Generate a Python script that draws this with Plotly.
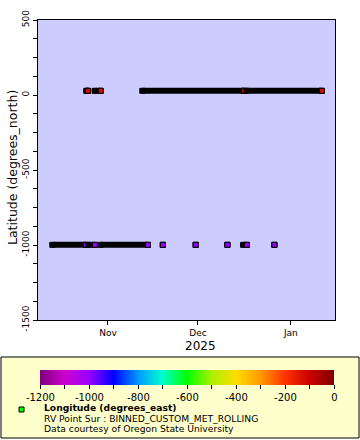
import plotly.graph_objects as go

# ---------------- data ----------------
# Runs of valid positions (latitude ~ 28 N, longitude ~ -122 E)
valid_run_start = ["2025-10-24 18:00", "2025-10-27 12:30", "2025-11-12 10:30", "2025-12-17 01:30"]
valid_run_end = ["2025-10-25 07:30", "2025-10-29 14:00", "2025-12-16 09:30", "2026-01-11 08:00"]
valid_lat = 28.0
valid_lon = -122.0

# Runs / single records carrying the fill value (-999)
fill_run_start = ["2025-10-13 10:30", "2025-10-25 07:30", "2025-10-29 14:00", "2025-11-19 07:00",
                  "2025-11-30 06:00", "2025-12-10 20:00", "2025-12-16 01:30", "2025-12-26 12:00"]
fill_run_end = ["2025-10-24 15:30", "2025-10-27 15:00", "2025-11-14 07:30", "2025-11-19 07:00",
                "2025-11-30 06:00", "2025-12-10 20:00", "2025-12-17 07:30", "2025-12-26 12:00"]
fill_lat = -999.0
fill_lon = -999.0

x_range = ["2025-10-08 16:00", "2026-01-15 17:00"]
x_tick_dates = ["2025-11-01", "2025-12-01", "2026-01-01"]
x_tick_labels = ["Nov", "Dec", "Jan"]
y_range = [-1500, 500]
y_tick_values = [500, 0, -500, -1000, -1500]
y_tick_labels = ["500", "0", "-500", "-1000", "-1500"]
cbar_tick_values = list(range(-1200, 1, 100))
cbar_tick_labels = [str(v) if v % 200 == 0 else "" for v in cbar_tick_values]

colorscale = [
    [0 / 12, "#800080"], [1 / 12, "#CC00CC"], [2 / 12, "#9900FF"], [3 / 12, "#0000FF"],
    [4 / 12, "#0099FF"], [5 / 12, "#00FFCC"], [6 / 12, "#00FF00"], [7 / 12, "#AAF000"],
    [8 / 12, "#FFDD00"], [9 / 12, "#FF9900"], [10 / 12, "#FF3300"], [11 / 12, "#CC0000"],
    [12 / 12, "#800000"],
]

FONT = "DejaVu Sans"
W, H = 360, 440
L, R, T, B = 38, 25, 20, 120
PW, PH = W - L - R, H - T - B


def px(x):
    return (x - L) / PW


def py(y):
    return (H - B - y) / PH


runs = [(s, e, valid_lat, valid_lon) for s, e in zip(valid_run_start, valid_run_end)]
runs += [(s, e, fill_lat, fill_lon) for s, e in zip(fill_run_start, fill_run_end)]
runs.sort(key=lambda r: r[0])

fig = go.Figure()
for s, e, lat, lon in runs:
    fig.add_trace(go.Scatter(
        x=[s, e], y=[lat, lat], mode="lines+markers",
        line=dict(color="black", width=6),
        marker=dict(symbol="square", size=5, color="black", line=dict(color="black", width=1)),
        showlegend=False, hoverinfo="skip"))
    fig.add_trace(go.Scatter(
        x=[e], y=[lat], mode="markers",
        marker=dict(symbol="square", size=5, color=[lon], coloraxis="coloraxis",
                    line=dict(color="black", width=1)),
        showlegend=False))

fig.update_layout(
    width=W, height=H,
    margin=dict(l=L, r=R, t=T, b=B, pad=0, autoexpand=False),
    paper_bgcolor="white", plot_bgcolor="#CCCCFF",
    font=dict(family=FONT, color="black"),
    showlegend=False,
    coloraxis=dict(
        cmin=-1200.01, cmax=0.01, colorscale=colorscale,
        colorbar=dict(
            orientation="h", xref="container", yref="container",
            x=49 / W, xanchor="left", y=(H - 370) / H, yanchor="top",
            len=294, lenmode="pixels", thickness=15, thicknessmode="pixels",
            xpad=0, ypad=0, outlinewidth=0, ticklabeloverflow="allow",
            tickmode="array", tickvals=cbar_tick_values, ticktext=cbar_tick_labels,
            ticks="outside", ticklen=4, tickcolor="black", tickwidth=1,
            tickfont=dict(size=10, family=FONT, color="black"),
        ),
    ),
    xaxis=dict(
        type="date", range=x_range, tickmode="array", tickvals=x_tick_dates, ticktext=x_tick_labels,
        ticks="outside", ticklen=4, tickcolor="black", showline=True, linecolor="black", linewidth=1,
        mirror=True, showgrid=False, zeroline=False, tickfont=dict(size=9, family=FONT),
    ),
    yaxis=dict(
        range=y_range, tickmode="array", tickvals=y_tick_values, ticktext=y_tick_labels,
        tickangle=-90, ticks="outside", ticklen=4, tickcolor="black", showline=True,
        linecolor="black", linewidth=1, mirror=True, showgrid=False, zeroline=False,
        tickfont=dict(size=9, family=FONT),
        minor=dict(dtick=125, tick0=0, ticks="outside", ticklen=4, tickcolor="black", showgrid=False),
    ),
)

# legend box
fig.add_shape(type="rect", xref="paper", yref="paper", x0=px(1), x1=px(359), y0=py(357), y1=py(438),
              fillcolor="#FFFFCC", line=dict(color="black", width=1), layer="below")
fig.add_shape(type="rect", xref="paper", yref="paper", x0=px(19), x1=px(24), y0=py(407), y1=py(412),
              fillcolor="#00FF00", line=dict(color="black", width=1))

legend_lines = ["<b>Longitude (degrees_east)</b>", "RV Point Sur : BINNED_CUSTOM_MET_ROLLING",
                "Data courtesy of Oregon State University"]
legend_y = [407.8, 418.3, 428.3]
for txt, ly in zip(legend_lines, legend_y):
    fig.add_annotation(text=txt, xref="paper", yref="paper", x=px(42.5), y=py(ly),
                       xanchor="left", yanchor="middle", showarrow=False, borderpad=0,
                       font=dict(size=9.2, family=FONT, color="black"))

fig.add_annotation(text="2025", xref="paper", yref="paper", x=px(200.8), y=py(346),
                   xanchor="center", yanchor="middle", showarrow=False,
                   font=dict(size=12, family=FONT, color="black"))
fig.add_annotation(text="Latitude (degrees_north)", xref="paper", yref="paper", x=px(12), y=py(168),
                   xanchor="center", yanchor="middle", textangle=-90, showarrow=False,
                   font=dict(size=12.5, family=FONT, color="black"))

fig.write_html("out.html", config={"displayModeBar": False},
               post_script="document.body.style.margin='0px';")
